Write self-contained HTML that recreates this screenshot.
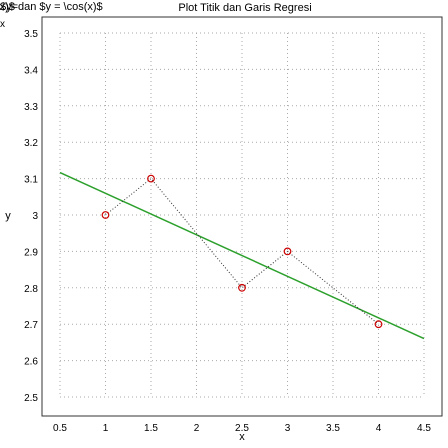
<!DOCTYPE html>
<html><head><meta charset="utf-8"><style>
html,body{margin:0;padding:0;background:#fff;}
svg{display:block;font-family:"Liberation Sans",sans-serif;}
</style></head><body>
<svg id="chart" width="448" height="448">
<text x="-30" y="10" font-size="11" fill="#000">y=sin(x)$ dan $y = \cos(x)$</text>
<text x="0" y="10" font-size="11" fill="#000">$y=</text>
<text x="0" y="27" font-size="10" fill="#000">x</text>
<text x="245" y="11" font-size="11" text-anchor="middle">Plot Titik dan Garis Regresi</text>
<rect x="42" y="17" width="400" height="399" fill="none" stroke="#333" stroke-width="1"/>
<g id="grid"></g><g id="ticks"></g><g id="marks"></g>
<text x="242" y="440" font-size="11" text-anchor="middle">x</text>
<text x="8" y="219" font-size="11" text-anchor="middle">y</text>
</svg>
<script>
const xs=[1,1.5,2.5,3,4];
const ys=[3,3.1,2.8,2.9,2.7];
const xTicks=[0.5,1,1.5,2,2.5,3,3.5,4,4.5];
const xTickLabels=["0.5","1","1.5","2","2.5","3","3.5","4","4.5"];
const yTicks=[2.5,2.6,2.7,2.8,2.9,3,3.1,3.2,3.3,3.4,3.5];
const yTickLabels=["2.5","2.6","2.7","2.8","2.9","3","3.1","3.2","3.3","3.4","3.5"];
const NS="http://www.w3.org/2000/svg";
const X=v=>60+(v-0.5)*91;
const Y=v=>397-(v-2.5)*364;
function mk(t,a,p){const e=document.createElementNS(NS,t);for(const k in a)e.setAttribute(k,a[k]);p.appendChild(e);return e;}
const g=document.getElementById('grid'),tk=document.getElementById('ticks'),m=document.getElementById('marks');
xTicks.forEach((v,i)=>{
 const l=mk('line',{x1:X(v),x2:X(v),y1:Y(3.5),y2:Y(2.5),stroke:'#aaa','stroke-dasharray':'1,3'},g);
 
 
 const t=mk('text',{x:X(v),y:431,'font-size':10,'text-anchor':'middle'},tk);t.textContent=xTickLabels[i];
 
 
});
yTicks.forEach((v,i)=>{
 const l=mk('line',{x1:X(0.5),x2:X(4.5),y1:Y(v),y2:Y(v),stroke:'#aaa','stroke-dasharray':'1,3'},g);
 
 
 const t=mk('text',{x:38,y:Y(v)+4,'font-size':10,'text-anchor':'end'},tk);t.textContent=yTickLabels[i];
 
 
});
const n=xs.length,mx=xs.reduce((a,b)=>a+b)/n,my=ys.reduce((a,b)=>a+b)/n;
let sxy=0,sxx=0;xs.forEach((x,i)=>{sxy+=(x-mx)*(ys[i]-my);sxx+=(x-mx)*(x-mx);});
const b=sxy/sxx,a=my-b*mx;
const rl=mk('line',{x1:X(0.5),y1:Y(a+b*0.5),x2:X(4.5),y2:Y(a+b*4.5),stroke:'#2ca02c','stroke-width':1.5},m);


const pl=mk('polyline',{points:xs.map((x,i)=>X(x)+','+Y(ys[i])).join(' '),fill:'none',stroke:'#333','stroke-dasharray':'1,2'},m);


xs.forEach((x,i)=>{
 const c=mk('circle',{cx:X(x),cy:Y(ys[i]),r:3.3,fill:'none',stroke:'#c00','stroke-width':1.2},m);
 
 
});
</script>
</body></html>
